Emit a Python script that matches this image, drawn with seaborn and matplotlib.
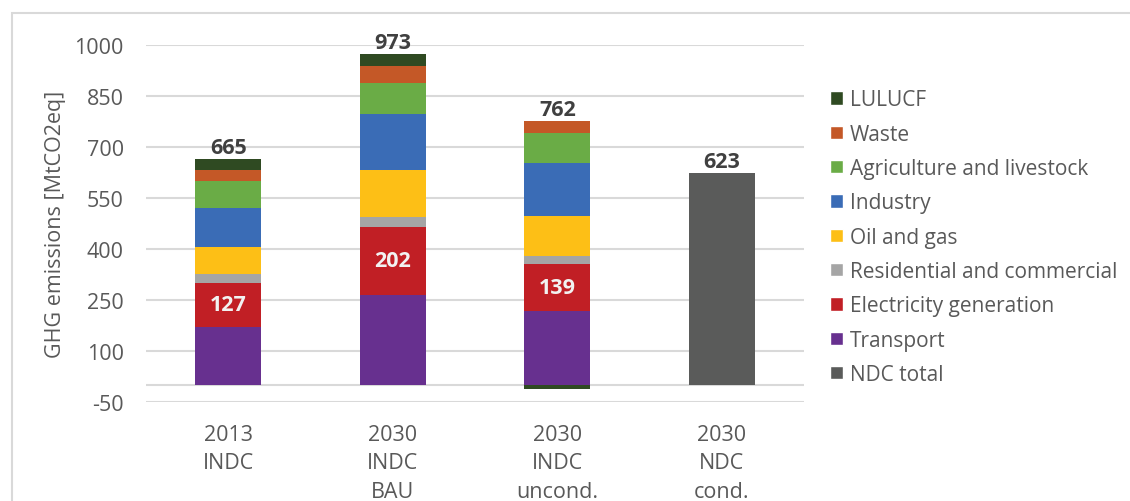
import numpy as np
import pandas as pd
import matplotlib.pyplot as plt
import seaborn as sns
from matplotlib.patches import Rectangle, Patch

sns.set_theme(style="white")
plt.rcParams['font.family'] = ['Open Sans', 'DejaVu Sans']
plt.rcParams['axes.unicode_minus'] = False

# data (MtCO2eq)
scenarios = ['2013\nINDC', '2030\nINDC\nBAU', '2030\nINDC\nuncond.', '2030\nNDC\ncond.']
transport = [172, 264, 217, 0]
electricity = [127, 202, 139, 0]
residential = [27, 28, 23, 0]
oil_gas = [79, 138, 118, 0]
industry = [116, 165, 156, 0]
agriculture = [80, 92, 88, 0]
waste = [30, 49, 34, 0]
lulucf = [34, 35, -13, 0]
ndc_total = [0, 0, 0, 623]
totals = [665, 973, 762, 623]

layers = [
    ('Transport', transport, '#67308F'),
    ('Electricity generation', electricity, '#C11F25'),
    ('Residential and commercial', residential, '#A5A5A5'),
    ('Oil and gas', oil_gas, '#FDBF16'),
    ('Industry', industry, '#3A6CB6'),
    ('Agriculture and livestock', agriculture, '#6AAC46'),
    ('Waste', waste, '#C45827'),
    ('LULUCF', lulucf, '#2F4A22'),
    ('NDC total', ndc_total, '#5A5B5A'),
]

fig = plt.figure(figsize=(11.3, 5.02), dpi=100)
ax = fig.add_axes([146 / 1130, 1 - 403 / 502, 658 / 1130, 357 / 502])

grid_c = '#D9D9D9'
text_c = '#595959'
fs = 15.5

# stack the sectors; negative values (LULUCF sink) go below zero
pos_bottom = np.zeros(len(scenarios))
neg_bottom = np.zeros(len(scenarios))
for name, vals, col in layers:
    vals = np.array(vals, dtype=float)
    base = np.where(vals >= 0, pos_bottom, neg_bottom)
    sns.barplot(x=scenarios, y=vals, bottom=base, color=col, width=0.4,
                order=scenarios, ax=ax, zorder=3, saturation=1, linewidth=0)
    pos_bottom += np.clip(vals, 0, None)
    neg_bottom += np.clip(vals, None, 0)

ax.set_xlim(-0.5, 3.5)
ax.set_ylim(-50, 1000)
ax.set_yticks(np.arange(-50, 1001, 150))
ax.grid(axis='y', color=grid_c, lw=1.5, zorder=0)
ax.axhline(0, color=grid_c, lw=1.5, zorder=2)
for s in ax.spines.values():
    s.set_visible(False)
ax.tick_params(axis='both', length=0, labelsize=fs, labelcolor=text_c)
ax.tick_params(axis='x', pad=16)
ax.tick_params(axis='y', pad=16)
for lab in ax.get_xticklabels():
    lab.set_linespacing(1.45)
ax.set_xlabel('')
ax.set_ylabel('GHG emissions [MtCO2eq]', fontsize=fs, color=text_c, labelpad=6)

# total labels above the bars
for i, t in enumerate(totals):
    top = pos_bottom[i]
    ax.annotate(f'{t}', (i, top), xytext=(0, 1), textcoords='offset points',
                ha='center', va='bottom', fontsize=fs, fontweight='bold',
                color='#404040', annotation_clip=False)

# electricity labels inside the red segments
for i, v in enumerate(electricity):
    if v > 0:
        ax.text(i, transport[i] + v / 2, f'{v}', ha='center', va='center',
                fontsize=fs, fontweight='bold', color='#F2F2F2', zorder=4)

handles = [Patch(facecolor=c, label=n) for n, _, c in layers[::-1][1:]]
handles.append(Patch(facecolor=layers[-1][2], label=layers[-1][0]))
leg = fig.legend(handles=handles, loc='upper left', bbox_to_anchor=(822 / 1130, 1 - 82 / 502),
                 frameon=False, fontsize=15, handlelength=0.6, handleheight=0.6,
                 handletextpad=0.35, labelspacing=0.64, borderaxespad=0)
for t in leg.get_texts():
    t.set_color(text_c)

# light frame around the chart area
fig.patches.append(Rectangle((12 / 1130, -0.05), 1.1, 1.05 - 14 / 502, transform=fig.transFigure,
                             fill=False, edgecolor=grid_c, lw=1.5))

fig.savefig('out.png', dpi=100)
